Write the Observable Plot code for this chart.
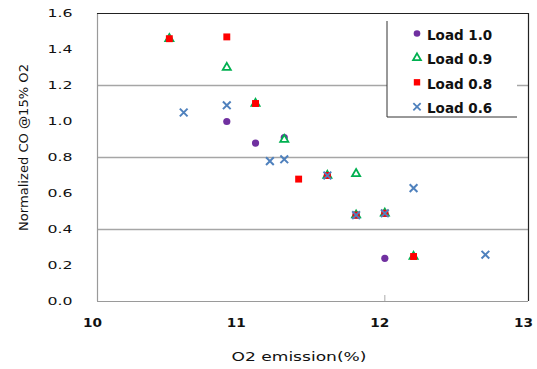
<!DOCTYPE html>
<html>
<head>
<meta charset="utf-8">
<script src="https://cdn.jsdelivr.net/npm/d3@7"></script>
<script src="https://cdn.jsdelivr.net/npm/@observablehq/plot@0.6"></script>
<style>
  html, body { margin: 0; padding: 0; background: #fff; }
  #chart { width: 537px; height: 369px; }
</style>
</head>
<body>
<div id="chart"></div>
<script>
// Normalized CO versus O2 in the exhaust, one series per engine load
const seriesNames = ["Load 1.0", "Load 0.9", "Load 0.8", "Load 0.6"];
const seriesColors = ["#7030a0", "#00b050", "#ff0000", "#4f81bd"];

const o2Load10 = [10.9, 11.1, 11.3, 11.6, 11.8, 12.0, 12.0];
const coLoad10 = [1.00, 0.88, 0.91, 0.70, 0.48, 0.49, 0.24];

const o2Load09 = [10.5, 10.9, 11.1, 11.3, 11.6, 11.8, 11.8, 12.0, 12.2];
const coLoad09 = [1.46, 1.30, 1.10, 0.90, 0.70, 0.71, 0.48, 0.49, 0.25];

const o2Load08 = [10.5, 10.9, 11.1, 11.4, 11.6, 11.8, 12.0, 12.2];
const coLoad08 = [1.46, 1.47, 1.10, 0.68, 0.70, 0.48, 0.49, 0.25];

const o2Load06 = [10.6, 10.9, 11.2, 11.3, 11.6, 11.8, 12.0, 12.2, 12.7];
const coLoad06 = [1.05, 1.09, 0.78, 0.79, 0.70, 0.48, 0.49, 0.63, 0.26];

const xTicks = [10, 11, 12, 13];
const yTicks = [0, 0.2, 0.4, 0.6, 0.8, 1.0, 1.2, 1.4, 1.6];
const yGrid = [0.4, 0.8, 1.2];
const xMinorTicks = [12];

const rows = (xs, ys) => xs.map((x, i) => ({x, y: ys[i]}));
const load10 = rows(o2Load10, coLoad10);
const load09 = rows(o2Load09, coLoad09);
const load08 = rows(o2Load08, coLoad08);
const load06 = rows(o2Load06, coLoad06);

const font = "DejaVu Sans, Verdana, sans-serif";

const chart = Plot.plot({
  width: 537,
  height: 369,
  marginLeft: 97,
  marginRight: 9,
  marginTop: 13,
  marginBottom: 68,
  x: {domain: [10, 13]},
  y: {domain: [0, 1.6]},
  style: {fontFamily: font, background: "#fff", overflow: "visible"},
  marks: [
    Plot.gridY(yGrid, {stroke: "#a6a6a6", strokeOpacity: 1, strokeWidth: 1.5}),
    // frame: grey axes on the left and bottom, dark border on top and right
    Plot.ruleY([0], {stroke: "#9a9a9a", strokeWidth: 1.2}),
    Plot.ruleX([10], {stroke: "#9a9a9a", strokeWidth: 1.2}),
    Plot.ruleY([1.6], {stroke: "#222", strokeWidth: 1.2}),
    Plot.ruleX([13], {stroke: "#222", strokeWidth: 1.2}),
    Plot.axisY(yTicks, {
      tickSize: 0, tickPadding: 25, tickFormat: d3.format(".1f"),
      fontSize: 11, fill: "#111", stroke: "#111", strokeWidth: 0.3,
      label: null, className: "ytick"
    }),
    Plot.axisX(xTicks, {
      tickSize: 0, tickPadding: 17, tickFormat: d3.format("d"),
      fontSize: 11.5, fontWeight: "bold", fill: "#111", dx: -5, label: null, className: "xtick"
    }),
    Plot.axisX(xMinorTicks, {
      tickSize: -6, tickFormat: () => "", stroke: "#aaa", label: null
    }),
    Plot.text(["O2 emission(%)"], {
      frameAnchor: "bottom", dy: 59, dx: -14, fontSize: 13, fill: "#111", className: "xtitle"
    }),
    Plot.text(["Normalized CO @15% O2"], {
      frameAnchor: "left", textAnchor: "middle", rotate: -90, dx: -73, dy: -10,
      fontSize: 12, fill: "#111", className: "ytitle"
    }),
    Plot.dot(load10, {x: "x", y: "y", symbol: "circle", r: 3.6, fill: seriesColors[0]}),
    Plot.dot(load09, {x: "x", y: "y", symbol: "triangle", r: 3.0, fill: "#fff", stroke: seriesColors[1], strokeWidth: 1.8}),
    Plot.dot(load08, {x: "x", y: "y", symbol: "square", r: 3.9, fill: seriesColors[2]}),
    Plot.dot(load06, {x: "x", y: "y", symbol: "times", r: 3.6, stroke: seriesColors[3], strokeWidth: 2})
  ]
});

document.getElementById("chart").append(chart);

// the lettering of this chart is set wide; stretch each label to its width
const svg = d3.select(chart);
const widen = (sel, width) => sel.attr("textLength", width).attr("lengthAdjust", "spacingAndGlyphs");
widen(svg.selectAll(".ytick text"), 25);
widen(svg.selectAll(".xtick text"), 19);
widen(svg.selectAll(".xtitle text"), 135);
widen(svg.selectAll(".ytitle text"), 167);

// legend box in the upper right of the plot area
const lg = svg.append("g").attr("transform", "translate(387,21)");
lg.append("rect").attr("width", 130).attr("height", 96).attr("fill", "#fff");
lg.append("line").attr("x1", 0).attr("y1", 0).attr("x2", 0).attr("y2", 96).attr("stroke", "#333");
lg.append("line").attr("x1", 0).attr("y1", 96).attr("x2", 130).attr("y2", 96).attr("stroke", "#333");
const legendSymbols = [
  {type: d3.symbolCircle, r: 3.3, fill: seriesColors[0], stroke: "none"},
  {type: d3.symbolTriangle, r: 2.9, fill: "#fff", stroke: seriesColors[1]},
  {type: d3.symbolSquare, r: 3.6, fill: seriesColors[2], stroke: "none"},
  {type: d3.symbolTimes, r: 3.4, fill: "none", stroke: seriesColors[3]}
];
seriesNames.forEach((name, i) => {
  const row = lg.append("g").attr("transform", `translate(0,${14 + i * 24.4})`);
  const s = legendSymbols[i];
  row.append("path")
    .attr("transform", "translate(30,-1.5)")
    .attr("d", d3.symbol(s.type, Math.PI * s.r * s.r)())
    .attr("fill", s.fill).attr("stroke", s.stroke).attr("stroke-width", 1.8);
  row.append("text")
    .attr("x", 40).attr("y", 0).attr("dy", "0.36em")
    .attr("text-anchor", "start")
    .attr("font-family", font).attr("font-size", 13.5).attr("font-weight", "bold")
    .attr("fill", "#111").text(name);
});
</script>
</body>
</html>
